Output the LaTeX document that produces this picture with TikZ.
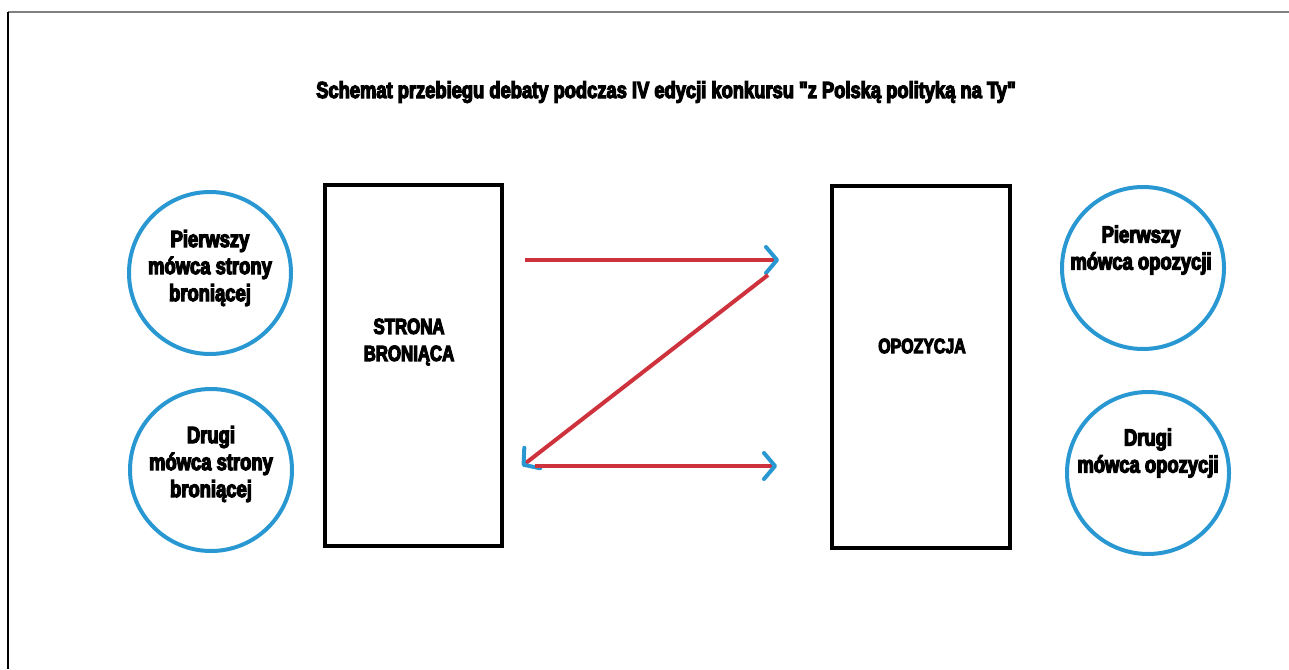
\documentclass[tikz,border=0pt]{standalone}
\usepackage{fontspec}
\usetikzlibrary{arrows.meta}
\newfontfamily\impT[FakeStretch=0.79,FakeBold=5]{Liberation Sans Bold}
\newfontfamily\impN[FakeStretch=0.764,FakeBold=5]{Liberation Sans Bold}
\newfontfamily\impW[FakeStretch=0.78,FakeBold=5]{Liberation Sans Bold}
\definecolor{dred}{RGB}{206,50,60}
\definecolor{cblue}{RGB}{41,152,210}
\tikzset{
  speaker/.style={circle, draw=cblue, line width=4pt, minimum size=162pt, inner sep=0pt},
  side/.style={rectangle, draw=black, line width=4pt, inner sep=0pt},
  lbl/.style={align=center, inner sep=0pt, font=\impW\fontsize{23.6}{27}\selectfont},
  capt/.style={align=center, inner sep=0pt, font=\impN\fontsize{22}{27}\selectfont},
  ttl/.style={inner sep=0pt, anchor=base, font=\impT\fontsize{23.2}{25}\selectfont},
  flow/.style={draw=dred, line width=4pt, -{Straight Barb[color=cblue, length=11pt, width=26pt, line width=4pt, round]}},
  frame/.style={line width=2pt}
}
\begin{document}
\begin{tikzpicture}[x=1pt,y=-1pt]
\useasboundingbox (0,0) rectangle (1289,669);
% page frame
\draw[frame, gray] (8,12) -- (1289,12);
\draw[frame, black] (8,12) -- (8,669);
% title
\node[ttl] (title) at (666,98) {Schemat przebiegu debaty podczas IV edycji konkursu "z Polską polityką na Ty"};
% sides
\node[side, minimum width=177pt, minimum height=361pt] (def) at (413.5,365.5) {};
\node[side, minimum width=178pt, minimum height=362pt] (opp) at (921,367) {};
\node[capt] (deft) at (409,342) {STRONA\\BRONIĄCA};
\node[capt, font=\impN\fontsize{20.8}{27}\selectfont] (oppt) at (922,346) {OPOZYCJA};
% speakers
\node[speaker] (d1) at (210,273) {};
\node[speaker] (d2) at (211,470) {};
\node[speaker] (o1) at (1143,268) {};
\node[speaker] (o2) at (1148,473) {};
\node[lbl] (d1t) at (210,268) {Pierwszy\\mówca strony\\broniącej};
\node[lbl] (d2t) at (211,464) {Drugi\\mówca strony\\broniącej};
\node[lbl] (o1t) at (1141,250) {Pierwszy\\mówca opozycji};
\node[lbl] (o2t) at (1148,453) {Drugi\\mówca opozycji};
% flow of the debate
\coordinate (a1s) at (525,260);
\coordinate (a1e) at (779,260);
\coordinate (a2s) at (768,275);
\coordinate (a2e) at (522,466);
\coordinate (a3s) at (535,466);
\coordinate (a3e) at (777,466);
\draw[flow] (a1s) -- (a1e);
\draw[flow] (a2s) -- (a2e);
\draw[flow] (a3s) -- (a3e);
\end{tikzpicture}
\end{document}
